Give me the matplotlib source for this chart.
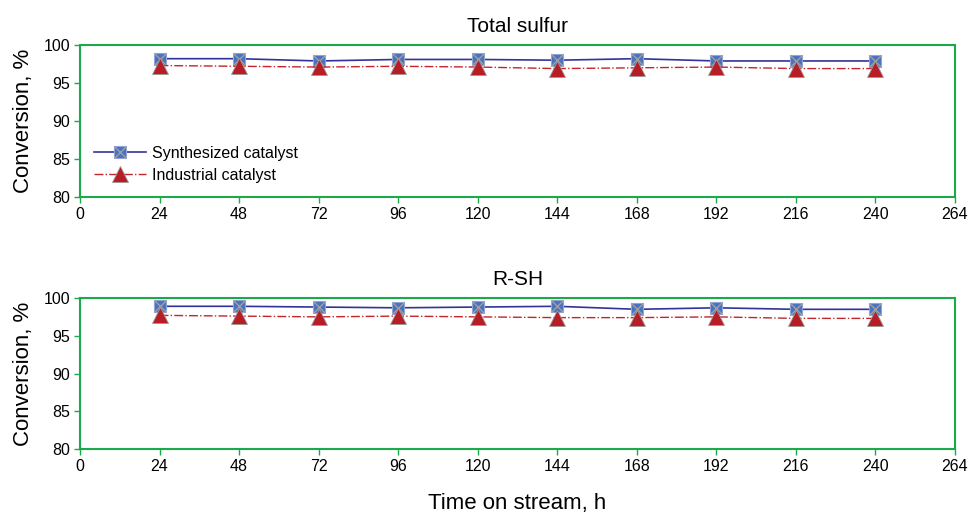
import matplotlib
matplotlib.use('Agg')
import matplotlib.pyplot as plt

plt.rcParams['font.family'] = ['Liberation Sans', 'DejaVu Sans']

hours = [24, 48, 72, 96, 120, 144, 168, 192, 216, 240]

sulfur_synth = [98.2, 98.2, 97.9, 98.1, 98.1, 98.0, 98.2, 97.9, 97.9, 97.9]
sulfur_ind = [97.3, 97.2, 97.1, 97.2, 97.1, 96.9, 97.0, 97.1, 96.9, 96.9]

rsh_synth = [98.9, 98.9, 98.8, 98.7, 98.8, 98.9, 98.5, 98.7, 98.5, 98.5]
rsh_ind = [97.7, 97.6, 97.5, 97.6, 97.5, 97.4, 97.4, 97.5, 97.3, 97.3]

titles = ['Total sulfur', 'R-SH']
green = '#1aaa4a'

fig = plt.figure(figsize=(9.7, 5.16), dpi=100)
ax1 = fig.add_axes([0.0825, 0.618, 0.902, 0.2948])
ax2 = fig.add_axes([0.0825, 0.1298, 0.902, 0.2927])

for ax, syn, ind, title in [(ax1, sulfur_synth, sulfur_ind, titles[0]),
                            (ax2, rsh_synth, rsh_ind, titles[1])]:
    l1, = ax.plot(hours, syn, color='#333399', lw=1.2, marker='s', ms=9,
                  mfc='#4a72bf', mec='#8fa6d6', mew=0.8, zorder=3)
    x1, = ax.plot(hours, syn, ls='none', marker='x', ms=8, mec='#a0a0a0',
                  mew=1.0, zorder=4)
    l2, = ax.plot(hours, ind, color='#c0262c', lw=1.0, ls='-.', marker='^',
                  ms=11, mfc='#b81c24', mec='#9a9a9a', mew=0.6, zorder=5)
    ax.set_xlim(0, 264)
    ax.set_ylim(80, 100)
    ax.set_xticks(range(0, 265, 24))
    ax.set_yticks(range(80, 101, 5))
    ax.set_title(title, fontsize=15, pad=9)
    ax.set_ylabel('Conversion, %', fontsize=16, labelpad=7)
    for s in ax.spines.values():
        s.set_color(green)
        s.set_linewidth(1.5)
    ax.tick_params(colors=green, labelcolor='black', labelsize=11.5,
                   direction='out', length=4, width=1, pad=3)
    if ax is ax1:
        ax.legend([(l1, x1), l2], ['Synthesized catalyst', 'Industrial catalyst'],
                  loc='lower left', bbox_to_anchor=(0.0, 0.0), frameon=False,
                  fontsize=11.5, handlelength=3.2, handletextpad=0.4,
                  labelspacing=0.45)

ax2.set_xlabel('Time on stream, h', fontsize=16, labelpad=14)

fig.savefig('out.png', dpi=100)
